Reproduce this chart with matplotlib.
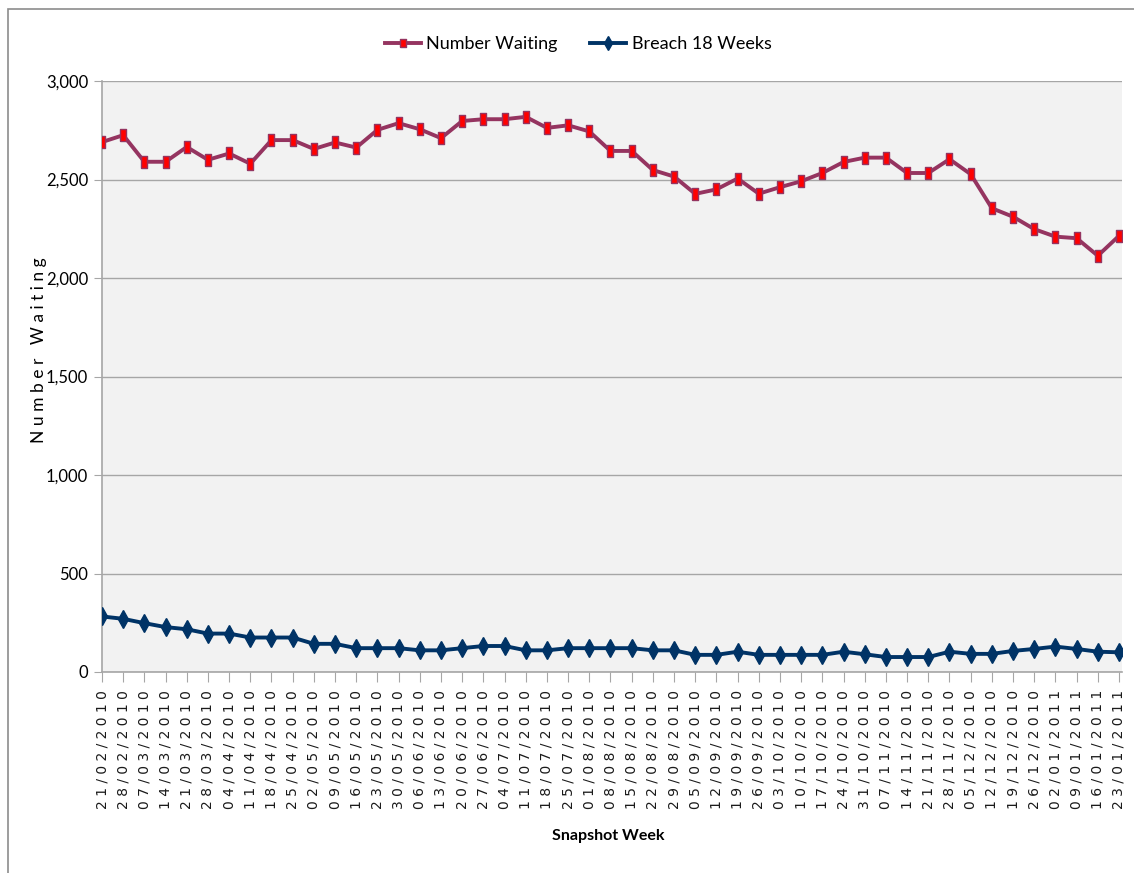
import numpy as np
import pandas as pd
import matplotlib
matplotlib.use("Agg")
import matplotlib.pyplot as plt
from matplotlib.patches import Rectangle
from matplotlib.ticker import FuncFormatter, MultipleLocator

# weekly snapshots, 21 Feb 2010 to 23 Jan 2011
weeks = pd.date_range("2010-02-21", "2011-01-23", freq="7D")
week_labels = [d.strftime("%d/%m/%Y") for d in weeks]

number_waiting = [2690, 2725, 2590, 2590, 2665, 2600, 2632, 2580, 2700, 2700,
                  2655, 2688, 2662, 2752, 2786, 2755, 2710, 2797, 2806, 2806,
                  2818, 2762, 2775, 2744, 2645, 2645, 2548, 2515, 2427, 2450,
                  2505, 2428, 2461, 2491, 2533, 2589, 2611, 2611, 2533, 2533,
                  2603, 2527, 2354, 2311, 2248, 2210, 2202, 2113, 2214]
breach_18_weeks = [282, 270, 248, 228, 217, 195, 195, 175, 175, 175,
                   143, 143, 121, 121, 121, 110, 110, 121, 132, 132,
                   110, 110, 121, 121, 121, 121, 110, 110, 87, 87,
                   103, 87, 87, 87, 87, 103, 90, 76, 76, 76,
                   103, 92, 92, 107, 117, 129, 117, 103, 100]

FONT = ["Lato", "DejaVu Sans"]
W, H = 1134, 873
fig = plt.figure(figsize=(W / 100, H / 100), dpi=100)

# outer chart frame
fig.patches.append(Rectangle((8 / W, -0.05), 1.2, 1 - 9 / H + 0.05,
                             transform=fig.transFigure, fill=False,
                             edgecolor="#8c8c8c", linewidth=1.2))

ax = fig.add_axes([102 / W, 1 - 672 / H, (1122 - 102) / W, (672 - 81) / H])
ax.set_facecolor("#f2f2f2")

x = np.arange(len(weeks))
rect = [(-0.62, -1), (0.62, -1), (0.62, 1), (-0.62, 1), (-0.62, -1)]
ax.plot(x, number_waiting, color="#953460", linewidth=2.8, marker=rect,
        markersize=8, markerfacecolor="#ff0000", markeredgecolor="#953460",
        markeredgewidth=1.0, label="Number Waiting", zorder=3)
ax.plot(x, breach_18_weeks, color="#003366", linewidth=2.8, marker="d",
        markersize=9, markerfacecolor="#003366", markeredgecolor="#003366",
        label="Breach 18 Weeks", zorder=3)

ax.set_xlim(0, 48 * (1122 - 102.7) / (1119 - 102.7))
ax.set_ylim(0, 3000)
ax.yaxis.set_major_locator(MultipleLocator(500))
ax.yaxis.set_major_formatter(FuncFormatter(lambda v, p: f"{int(v):,}"))
ax.grid(axis="y", color="#a6a6a6", linewidth=1.0)
ax.set_axisbelow(True)

for s in ("top", "right"):
    ax.spines[s].set_visible(False)
for s in ("left", "bottom"):
    ax.spines[s].set_color("#a6a6a6")
    ax.spines[s].set_linewidth(1.2)

ax.set_xticks(x)
ax.set_xticklabels([" ".join(lbl) for lbl in week_labels], rotation=90,
                   fontsize=10, family="DejaVu Sans", color="#1a1a1a")
ax.tick_params(axis="x", length=7, color="#a6a6a6", pad=6)
ax.tick_params(axis="y", length=6, color="#a6a6a6", pad=4)
for t in ax.get_yticklabels():
    t.set_family(FONT)
    t.set_fontsize(12)

fig.text(39 / W, 1 - 350 / H, " ".join("Number Waiting"),
         rotation=90, ha="center", va="center", fontsize=12.5, family=FONT)
fig.text(608 / W, 1 - 836 / H, "Snapshot Week", ha="center", va="center",
         fontsize=11.5, fontweight="bold", family=FONT)

fig.legend(loc="center", bbox_to_anchor=(578 / W, 1 - 44 / H), ncol=2,
           frameon=False, handlelength=2.0, handletextpad=0.3,
           columnspacing=1.8, markerscale=0.8,
           prop={"family": FONT, "size": 13})

fig.savefig("out.png", dpi=100)
